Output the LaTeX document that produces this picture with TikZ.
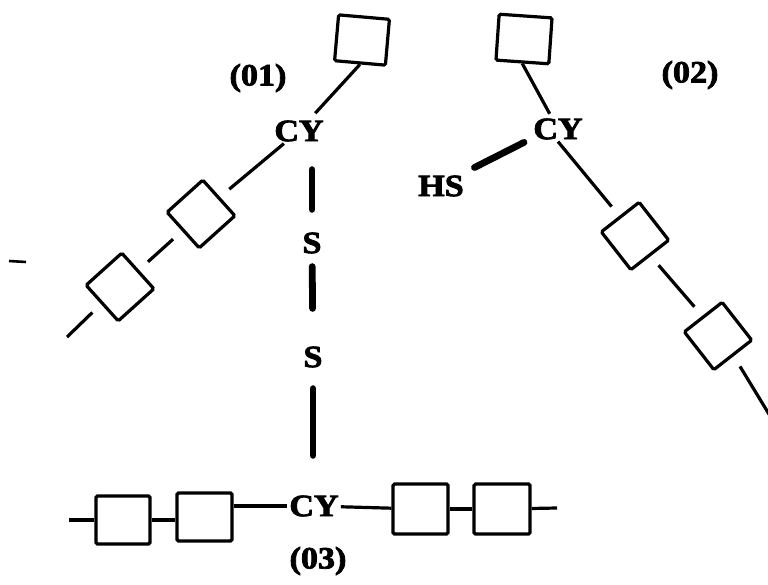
\documentclass[tikz,border=0pt]{standalone}
\usepackage{graphicx}
\usepackage{fontspec}
\setmainfont{Liberation Serif}
\newfontfamily\lblfont{Liberation Serif}[BoldFeatures={FakeBold=2.4}]
\usetikzlibrary{calc}
\tikzset{
  lbl/.style={inner sep=2pt, font=\fontsize{31}{31}\lblfont\bfseries},
  unit/.style={draw, line width=3.2pt, rectangle, rounded corners=1.5pt, inner sep=0pt},
  link/.style={line width=3.2pt},
  bond/.style={line width=6.8pt, line cap=round},
}
\newcommand{\wide}[1]{\scalebox{1.1}[1]{#1}}
\begin{document}
\begin{tikzpicture}[x=1pt,y=-1pt]
\useasboundingbox (0,0) rectangle (768,584);
% ---------- (01)
\node[unit, minimum width=51pt, minimum height=46pt, rotate=-5] (sq1) at (362,40) {};
\node[unit, minimum size=48pt, rotate=42] (d1) at (201,214) {};
\node[unit, minimum size=48pt, rotate=42] (d2) at (120,287) {};
\node[lbl] (cy1) at (299,131) {\wide{CY}};
\node[lbl] (l1) at (258,78) {\wide{(01)}};
\coordinate (e1) at (67,337);
\draw[link, shorten <=7pt] (cy1) -- (sq1.south);
\draw[link, shorten >=12pt] (cy1) -- (d1.east);
\draw[link, shorten <=12pt, shorten >=12pt] (d1.west) -- (d2.east);
\draw[link, shorten <=12pt] (d2.west) -- (e1);
% small stray mark
\coordinate (m1) at (9,261);
\coordinate (m2) at (26,262);
\draw[line width=2.6pt] (m1) -- (m2);
% ---------- (02)
\node[unit, minimum width=53pt, minimum height=46pt, rotate=-4] (sq2) at (524,39) {};
\node[lbl] (cy2) at (558,129) {\wide{CY}};
\node[lbl] (hs) at (441,186) {\wide{HS}};
\node[unit, minimum size=48pt, rotate=38] (dA) at (635,236) {};
\node[unit, minimum size=48pt, rotate=38] (dB) at (718,336) {};
\coordinate (e2) at (775,424);
\node[lbl] (l2) at (690,75) {\wide{(02)}};
\draw[link, shorten <=3pt] (cy2) -- (sq2.south);
\draw[link, shorten >=12pt] (cy2.south) -- (dA.north);
\draw[link, shorten <=12pt, shorten >=12pt] (dA.south) -- (dB.north);
\draw[link, shorten <=12pt] (dB.south) -- (e2);
\draw[bond, shorten <=8pt, shorten >=13pt] (cy2.200) -- (hs.30);
% ---------- S-S bridge
\node[lbl] (s1) at (312,243) {\wide{S}};
\node[lbl] (s2) at (313,357) {\wide{S}};
\node[lbl] (cy3) at (314,506) {\wide{CY}};
\node[lbl] (l3) at (318,561) {\wide{(03)}};
\draw[bond, shorten <=26pt, shorten >=21pt] (cy1.south -| s1) -- (s1);
\draw[bond, shorten <=11pt, shorten >=36pt] (s1) -- (s2);
\draw[bond, shorten <=19pt, shorten >=38pt] (s2) -- (s2 |- cy3.north);
% ---------- (03)
\node[unit, minimum width=54pt, minimum height=48pt] (b1) at (123,520) {};
\node[unit, minimum width=55pt, minimum height=48pt] (b2) at (204.5,517) {};
\node[unit, minimum width=55pt, minimum height=50pt] (b3) at (420.5,509) {};
\node[unit, minimum width=56pt, minimum height=50pt] (b4) at (502,509) {};
\coordinate (e3) at (69,520);
\coordinate (e4) at (557,508);
\draw[link] (e3) -- (b1);
\draw[link] (b1) -- (b1 -| b2.west);
\draw[link] (b2.east |- cy3) -- (cy3);
\draw[link] (cy3) -- (b3);
\draw[link] (b3) -- (b4);
\draw[link] (b4) -- (e4);
\end{tikzpicture}
\end{document}
